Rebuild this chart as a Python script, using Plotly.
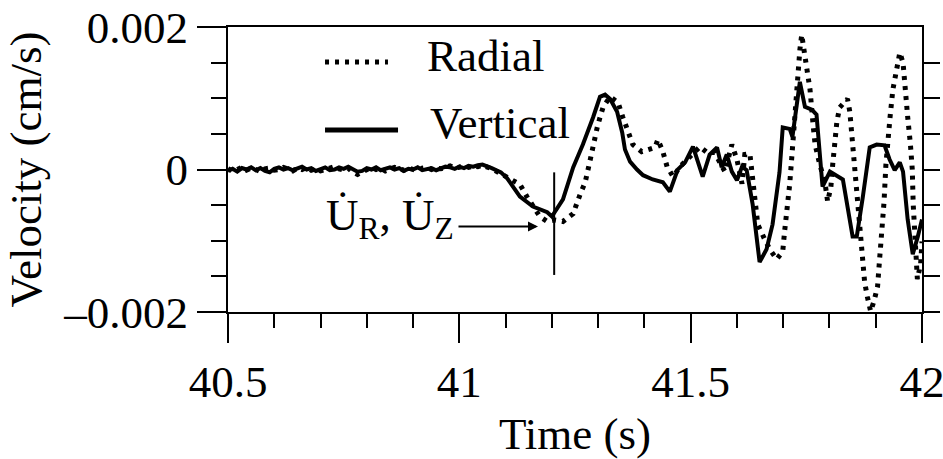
import plotly.graph_objects as go

# Pre-arrival noise segment (shared time samples), velocity in cm/s
noise_t = [40.50, 40.51, 40.52, 40.53, 40.54, 40.55, 40.56, 40.57, 40.58, 40.59,
           40.60, 40.61, 40.62, 40.63, 40.64, 40.65, 40.66, 40.67, 40.68, 40.69,
           40.70, 40.71, 40.72, 40.73, 40.74, 40.75, 40.76, 40.77, 40.78, 40.79,
           40.80, 40.81, 40.82, 40.83, 40.84, 40.85, 40.86, 40.87, 40.88, 40.89,
           40.90, 40.91, 40.92, 40.93, 40.94, 40.95, 40.96, 40.97, 40.98, 40.99,
           41.00, 41.01, 41.02, 41.03, 41.04, 41.05]

vert_noise = [-0.00002, 0.00001, -0.00003, 0.00002, 0.0, 0.00003, -0.00001, 0.00002, -0.00002, -0.00004,
              0.00001, 0.00003, 0.0, 0.00002, -0.00001, 0.00001, 0.00004, 0.0, 0.00002, -0.00002,
              0.00001, 0.00003, -0.00001, 0.0, 0.00003, 0.00001, 0.00004, 0.0, -0.00003, -0.00002,
              0.00002, 0.0, 0.00003, -0.00001, 0.00001, 0.00003, 0.0, 0.00002, -0.00002, 0.00001,
              0.0, 0.00003, -0.00001, 0.00001, 0.00002, -0.00001, 0.00002, 0.00004, 0.00003, 0.00001,
              0.00004, 0.00002, 0.00005, 0.00004, 0.00006, 0.00007]

rad_noise = [0.00001, -0.00002, 0.0, 0.00003, -0.00001, 0.00002, 0.0, -0.00003, 0.00001, 0.00002,
             -0.00001, 0.0, 0.00003, 0.00001, -0.00002, 0.00002, 0.0, 0.00003, -0.00001, 0.00001,
             -0.00002, 0.0, 0.00002, 0.00004, 0.00001, -0.00001, 0.00002, -0.00004, -0.00007, -0.00003,
             0.00001, 0.00003, 0.0, 0.00002, -0.00002, 0.0, 0.00003, 0.00001, -0.00001, 0.00002,
             0.0, -0.00002, 0.00002, 0.00003, 0.0, 0.00002, 0.00001, 0.00003, 0.00005, 0.00002,
             0.00003, 0.00006, 0.00003, 0.00005, 0.00004, 0.00006]

# Vertical component after the arrival
vert_t = [41.07, 41.09, 41.103, 41.116, 41.131, 41.159, 41.190, 41.200, 41.224, 41.246,
          41.267, 41.289, 41.304, 41.315, 41.326, 41.341, 41.352, 41.358, 41.369, 41.384,
          41.397, 41.418, 41.440, 41.455, 41.466, 41.472, 41.488, 41.505, 41.526, 41.541,
          41.557, 41.567, 41.578, 41.589, 41.600, 41.611, 41.621, 41.634, 41.649, 41.664,
          41.677, 41.692, 41.699, 41.714, 41.720, 41.736, 41.747, 41.762, 41.772, 41.785,
          41.801, 41.829, 41.850, 41.859, 41.872, 41.887, 41.902, 41.919, 41.930, 41.941,
          41.952, 41.959, 41.969, 41.980, 41.991, 42.0]
vert_v = [0.00002, -0.00004, -0.00012, -0.00024, -0.00038, -0.00052, -0.0006, -0.00066, -0.00042, 0.00003,
          0.00035, 0.00073, 0.00102, 0.00105, 0.00099, 0.00081, 0.00052, 0.00028, 0.00011, 0.0,
          -0.00008, -0.00014, -0.00018, -0.00031, -0.00011, 0.0, 0.0001, 0.00032, -0.0001, 0.00021,
          0.00031, 0.00003, 0.00021, -0.00003, -0.00015, 0.00004, -0.00001, -0.00049, -0.0013, -0.00112,
          -0.00077, -0.00004, 0.00059, 0.00057, 0.00046, 0.00123, 0.00088, 0.00084, 0.00077, -0.00024,
          -0.00003, -0.00014, -0.00094, -0.00094, -0.00039, 0.00031, 0.00035, 0.00034, 0.00014, -0.00001,
          0.0001, -0.00003, -0.0007, -0.00119, -0.00094, -0.0007]

# Radial component after the arrival
rad_t = [41.07, 41.09, 41.105, 41.116, 41.131, 41.146, 41.159, 41.174, 41.190, 41.207,
         41.224, 41.246, 41.261, 41.272, 41.282, 41.289, 41.298, 41.304, 41.311, 41.326,
         41.343, 41.353, 41.364, 41.375, 41.394, 41.412, 41.423, 41.429, 41.440, 41.449,
         41.462, 41.477, 41.498, 41.520, 41.535, 41.552, 41.563, 41.574, 41.589, 41.600,
         41.611, 41.617, 41.628, 41.634, 41.639, 41.645, 41.660, 41.671, 41.686, 41.699,
         41.703, 41.710, 41.714, 41.719, 41.725, 41.731, 41.736, 41.740, 41.747, 41.754,
         41.758, 41.765, 41.769, 41.779, 41.790, 41.796, 41.803, 41.807, 41.811, 41.816,
         41.822, 41.833, 41.839, 41.844, 41.850, 41.854, 41.859, 41.865, 41.870, 41.876,
         41.882, 41.889, 41.897, 41.904, 41.908, 41.913, 41.918, 41.922, 41.926, 41.931,
         41.937, 41.946, 41.952, 41.959, 41.963, 41.967, 41.969, 41.975, 41.979, 41.981,
         41.986, 41.990, 41.997, 42.0]
rad_v = [0.00001, -0.00006, -0.00012, -0.00017, -0.00021, -0.00038, -0.00052, -0.00066, -0.00073, -0.00071,
         -0.00073, -0.00062, -0.00035, -0.00018, 0.00011, 0.00035, 0.00059, 0.00073, 0.00088, 0.00102,
         0.00094, 0.00074, 0.00055, 0.00035, 0.00025, 0.00028, 0.00031, 0.00042, 0.00025, 0.00004,
         -0.0001, 0.00004, 0.00018, 0.00032, 0.00024, 0.00024, 0.0001, -0.00003, 0.00035, 0.00014,
         -0.0002, 0.00021, 0.00022, -0.00018, -0.00049, -0.00077, -0.00098, -0.00112, -0.00126, -0.00115,
         -0.00087, -0.00052, -0.00021, 0.00021, 0.00077, 0.00133, 0.00168, 0.00189, 0.00157, 0.00133,
         0.00112, 0.0006, 0.00035, 0.00007, -0.00017, -0.00045, -0.00025, 0.00007, 0.00042, 0.00067,
         0.00087, 0.00096, 0.00099, 0.00081, 0.00038, 0.00004, -0.00042, -0.00088, -0.00115, -0.00158,
         -0.00179, -0.00199, -0.00183, -0.00164, -0.00129, -0.00094, -0.00045, 0.00007, 0.00042, 0.00074,
         0.00112, 0.00144, 0.00164, 0.0015, 0.00126, 0.00098, 0.00074, 0.00035, 0.0, -0.00049,
         -0.00095, -0.00154, -0.00133, -0.00101]

# Arrival pick and the arrow pointing at it
pick_t = 41.205
pick_span = [-0.00148, -0.00004]
arrow_t, arrow_v = 41.17, -0.0008

series_names = ["Radial", "Vertical"]
y_ticks = [-0.002, 0, 0.002]
y_ticktext = ["\u20130.002", "0", "0.002"]
right_ticks = [-0.002, -0.0015, -0.001, -0.0005, 0, 0.0005, 0.001, 0.0015]

FONT = "Liberation Serif, Times New Roman, serif"
FS = 45
INK = "black"
DOT = "4px,6px"

fig = go.Figure()
fig.add_trace(go.Scatter(
    x=noise_t + rad_t, y=rad_noise + rad_v, mode="lines", name=series_names[0],
    line=dict(color=INK, width=5, dash=DOT), showlegend=False))
fig.add_trace(go.Scatter(
    x=noise_t + vert_t, y=vert_noise + vert_v, mode="lines", name=series_names[1],
    line=dict(color=INK, width=4), showlegend=False))
# empty trace so the right-hand tick axis is laid out
fig.add_trace(go.Scatter(x=[], y=[], yaxis="y2", showlegend=False))

fig.update_layout(
    width=943, height=459,
    margin=dict(l=228, r=21, t=27, b=147, autoexpand=False),
    paper_bgcolor="white", plot_bgcolor="white",
    font=dict(family=FONT, size=FS, color=INK),
    xaxis=dict(
        range=[40.5, 42], tickmode="linear", tick0=40.5, dtick=0.5,
        ticks="outside", ticklen=29, tickwidth=2, tickcolor=INK,
        minor=dict(tickmode="linear", tick0=40.5, dtick=0.1, ticks="outside",
                   ticklen=14, tickwidth=2, tickcolor=INK, showgrid=False),
        showline=True, linewidth=2, linecolor=INK, mirror=True,
        showgrid=False, zeroline=False, automargin=False, ticklabeloverflow="allow",
        tickfont=dict(family=FONT, size=FS, color=INK),
        title=dict(text="Time (s)", font=dict(family=FONT, size=FS, color=INK), standoff=17),
    ),
    yaxis=dict(
        range=[-0.002, 0.002], tickmode="array", tickvals=y_ticks, ticktext=y_ticktext,
        ticks="outside", ticklen=29, tickwidth=2, tickcolor=INK,
        minor=dict(tickmode="linear", tick0=0, dtick=0.0005, ticks="outside",
                   ticklen=15, tickwidth=2, tickcolor=INK, showgrid=False),
        showline=True, linewidth=2, linecolor=INK,
        showgrid=False, zeroline=False, automargin=False, ticklabeloverflow="allow",
        tickfont=dict(family=FONT, size=FS, color=INK),
        title=dict(text="Velocity (cm/s)", font=dict(family=FONT, size=FS, color=INK), standoff=8),
    ),
    yaxis2=dict(
        range=[-0.002, 0.002], overlaying="y", side="right",
        tickmode="array", tickvals=right_ticks, showticklabels=False,
        ticks="outside", ticklen=16, tickwidth=2, tickcolor=INK,
        showline=True, linewidth=2, linecolor=INK,
        showgrid=False, zeroline=False, automargin=False,
    ),
)

# legend drawn inside the plot area
fig.add_shape(type="line", xref="paper", yref="paper", x0=0.1398, x1=0.2305, y0=0.877, y1=0.877,
              line=dict(color=INK, width=5, dash=DOT))
fig.add_shape(type="line", xref="paper", yref="paper", x0=0.1398, x1=0.245, y0=0.6386, y1=0.6386,
              line=dict(color=INK, width=5))
fig.add_annotation(xref="paper", yref="paper", x=0.2839, y=0.897, text=series_names[0],
                   showarrow=False, xanchor="left", yanchor="middle",
                   font=dict(family=FONT, size=FS, color=INK))
fig.add_annotation(xref="paper", yref="paper", x=0.288, y=0.662, text=series_names[1],
                   showarrow=False, xanchor="left", yanchor="middle",
                   font=dict(family=FONT, size=FS, color=INK))

# arrival marker
fig.add_shape(type="line", xref="x", yref="y", x0=pick_t, x1=pick_t, y0=pick_span[0], y1=pick_span[1],
              line=dict(color=INK, width=2))
fig.add_annotation(x=arrow_t, y=arrow_v, ax=-81, ay=0, axref="pixel", ayref="pixel", text="",
                   showarrow=True, arrowhead=2, arrowsize=1, arrowwidth=2, arrowcolor=INK)
fig.add_annotation(x=40.707, y=-0.00068, text="U\u0307<sub>R</sub>, U\u0307<sub>Z</sub>",
                   showarrow=False, xanchor="left", yanchor="middle",
                   font=dict(family=FONT, size=FS, color=INK))

fig.write_html("out.html")
